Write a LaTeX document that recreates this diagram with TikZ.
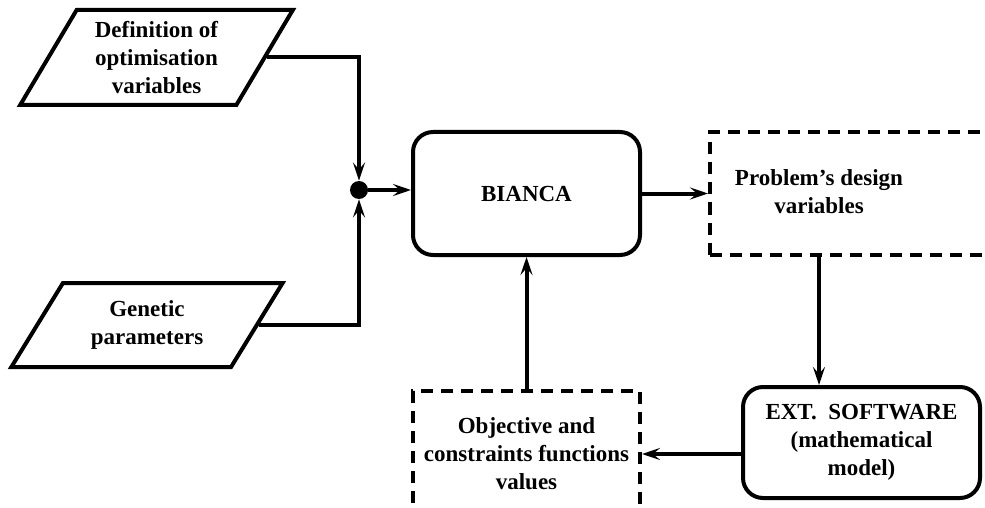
\documentclass[tikz,border=0pt]{standalone}
\usepackage{fontspec}
\setmainfont{Liberation Serif}[BoldFont={Liberation Serif Bold}]
\usetikzlibrary{shapes.geometric, positioning, arrows.meta, calc}
\tikzset{
  inputbox/.style={trapezium, trapezium stretches=true, inner sep=2pt, draw=black, line width=2pt, align=center, font=\fontsize{11.5}{14}\selectfont\bfseries},
  processbox/.style={rectangle, rounded corners=10pt, draw=black, line width=2pt, align=center, font=\fontsize{11.5}{14}\selectfont\bfseries},
  databox/.style={rectangle, draw=black, line width=2pt, dash pattern=on 6pt off 4pt, align=center, font=\fontsize{11.5}{14}\selectfont\bfseries},
  junction/.style={circle, fill=black, inner sep=0pt, minimum size=9pt},
  arrow/.style={line width=2pt, -{Stealth[length=9pt, width=6pt, inset=3.5pt]}}
}

\begin{document}
\begin{tikzpicture}[x=0.5pt, y=-0.5pt]
        \useasboundingbox (0,0) rectangle (985,508);

        % Entradas
        \node (defvars) [inputbox, trapezium left angle=60, trapezium right angle=120, minimum width=136.5pt, minimum height=47.5pt] at (156.5,57.5) {Definition of\\optimisation\\variables};
        \node (genparams) [inputbox, trapezium left angle=57, trapezium right angle=123, minimum width=137pt, minimum height=42pt] at (147,325) {Genetic\\parameters};
        \node (merge) [junction] at (359,190) {};

        % Bucle principal
        \node (bianca) [processbox, minimum width=113.5pt, minimum height=61.5pt] at (526.5,193.5) {BIANCA};
        \node (design) [databox, right=33pt of bianca, minimum width=147pt, minimum height=61pt] {\hspace*{-38pt}\begin{tabular}{@{}c@{}}Problem’s design\\variables\end{tabular}};
        \node (ext) [processbox, minimum width=118.5pt, minimum height=55.5pt] at (861.5,442.5) {EXT.\ \ SOFTWARE\\(mathematical\\model)};
        \node (objvals) [databox, below=66pt of bianca, minimum width=113.5pt, minimum height=63pt] {Objective and\\constraints functions\\values};

        % Flechas
        \draw [arrow] (defvars.east) -| (merge.north);
        \draw [arrow] (genparams.east) -| (merge.south);
        \draw [arrow] (merge) -- (merge -| bianca.west);
        \draw [arrow] (bianca) -- (design);
        \draw [arrow] ([xshift=-19pt]design.south) -- ([xshift=-19pt]design.south |- ext.north);
        \draw [arrow] (ext.west |- objvals.east) -- (objvals.east);
        \draw [arrow] (objvals) -- (bianca);

    \end{tikzpicture}
\end{document}
